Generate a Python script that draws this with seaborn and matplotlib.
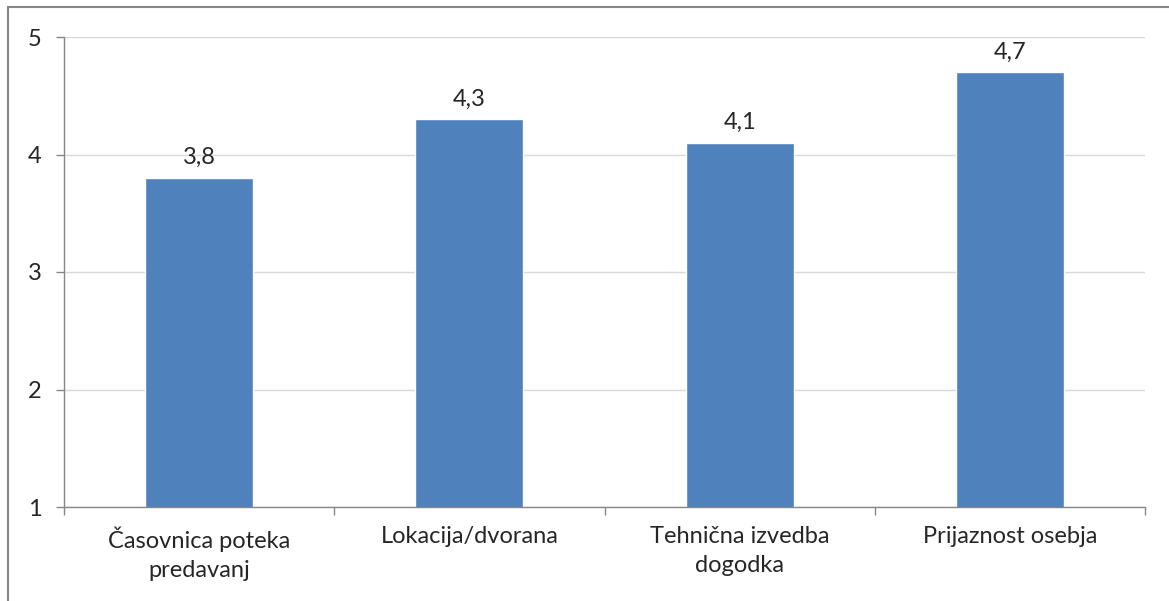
import pandas as pd
import seaborn as sns
import matplotlib.pyplot as plt
from matplotlib.lines import Line2D

# Data
categories = ["Časovnica poteka\npredavanj", "Lokacija/dvorana", "Tehnična izvedba\ndogodka", "Prijaznost osebja"]
scores = [3.8, 4.3, 4.1, 4.7]
value_labels = ["3,8", "4,3", "4,1", "4,7"]
y_ticks = [1, 2, 3, 4, 5]

df = pd.DataFrame({"Kategorija": categories, "Ocena": scores})

sns.set_style("white")
plt.rcParams['font.family'] = ['Lato', 'DejaVu Sans']

fig = plt.figure(figsize=(11.69, 6.01), dpi=100)
ax = fig.add_axes([64 / 1169, 1 - 507 / 601, (1145 - 64) / 1169, (507 - 37) / 601])

sns.barplot(data=df, x="Kategorija", y="Ocena", color="#4F81BD", width=0.4,
            saturation=1, ax=ax, bottom=0)

ax.set_ylim(1, 5)
ax.set_xlim(-0.5, len(categories) - 0.5)
ax.set_yticks(y_ticks)
ax.set_yticklabels([str(t) for t in y_ticks], fontsize=17)
ax.yaxis.grid(True, color="#D9D9D9", linewidth=1)
ax.set_axisbelow(True)
ax.set_xlabel("")
ax.set_ylabel("")
ax.set_xticks(range(len(categories)))
ax.set_xticklabels(categories, fontsize=17, linespacing=1.45)
ax.tick_params(axis='x', length=0, pad=14)
ax.tick_params(axis='y', length=6, width=1, color="#868686", pad=10, left=True)

# category boundary ticks
ax.set_xticks([i - 0.5 for i in range(len(categories) + 1)], minor=True)
ax.tick_params(axis='x', which='minor', length=6, width=1, color="#868686", bottom=True)

for s in ["top", "right"]:
    ax.spines[s].set_visible(False)
for s in ["left", "bottom"]:
    ax.spines[s].set_color("#868686")
    ax.spines[s].set_linewidth(1)

for i, (v, lab) in enumerate(zip(scores, value_labels)):
    ax.annotate(lab, (i, v), xytext=(0, 7), textcoords="offset points",
                ha="center", va="bottom", fontsize=17)

# outer chart border (left and top visible)
fig.add_artist(Line2D([8 / 1169, 8 / 1169], [0, 1 - 7 / 601], color="#868686", linewidth=1.5))
fig.add_artist(Line2D([8 / 1169, 1], [1 - 7 / 601, 1 - 7 / 601], color="#868686", linewidth=1.5))

plt.savefig("out.png", dpi=100)
